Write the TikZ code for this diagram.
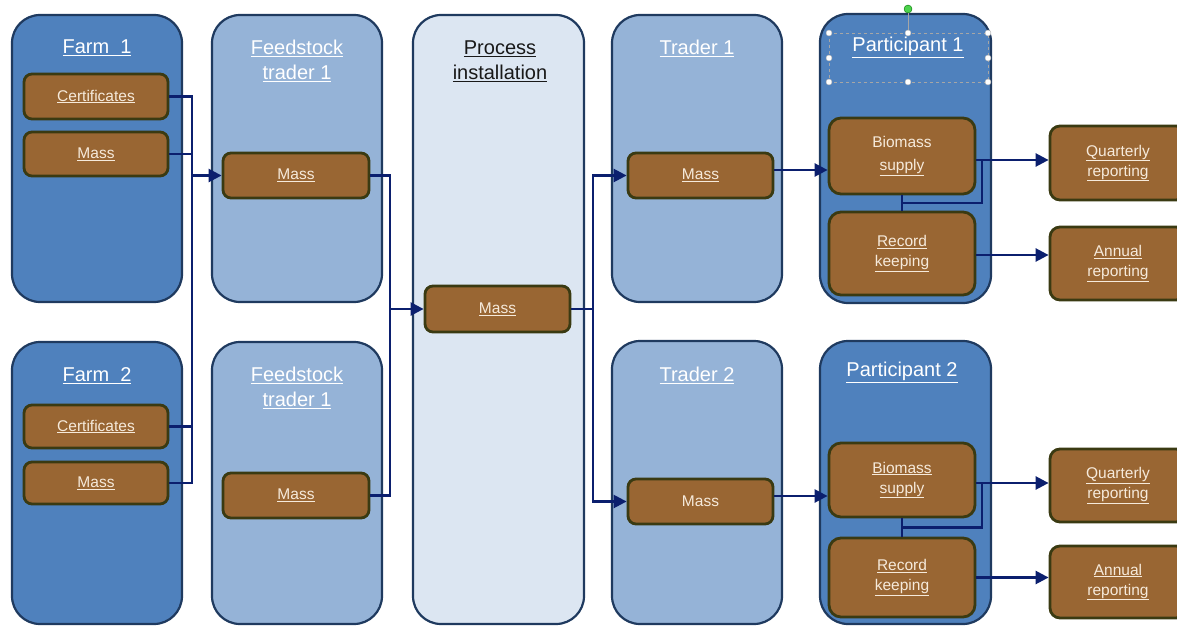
\documentclass[tikz,border=0pt]{standalone}
\usepackage{fontspec}
\setmainfont{Liberation Sans}
\usetikzlibrary{arrows.meta,calc}
\definecolor{darkb}{HTML}{4F81BD}
\definecolor{lightb}{HTML}{95B3D7}
\definecolor{paleb}{HTML}{DCE6F2}
\definecolor{bordc}{HTML}{1F3A5F}
\definecolor{brownf}{HTML}{996633}
\definecolor{brownb}{HTML}{3A3A12}
\definecolor{boxtxt}{HTML}{F6EADB}
\definecolor{navy}{HTML}{0B1F6E}
\newcommand\bx[7]{\node[#2, minimum width={(#5-#3)*1pt}, minimum height={(#6-#4)*1pt}] (#1) at ({(#3+#5)/2},{(#4+#6)/2}) {#7};}
\begin{document}
\begin{tikzpicture}[x=1pt,y=-1pt,
  cont/.style={draw=bordc, line width=2.2pt, rounded corners=28pt, inner sep=0pt},
  darkc/.style={cont, fill=darkb},
  lightc/.style={cont, fill=lightb},
  palec/.style={cont, fill=paleb},
  brownbox/.style={draw=brownb, fill=brownf, line width=2.8pt, rounded corners=8pt, inner sep=0pt, text=boxtxt, font=\fontsize{15.5}{20}\selectfont, align=center},
  title/.style={text=white, font=\fontsize{20}{25}\selectfont, align=center, inner sep=0pt},
  arr/.style={draw=navy, line width=2.5pt, -{Triangle[length=13pt,width=13pt]}},
  ln/.style={draw=navy, line width=2.5pt},
  handle/.style={circle, fill=white, draw=gray!60, line width=0.4pt, inner sep=0pt, minimum size=6pt}
]
\useasboundingbox (0,0) rectangle (1177,626);
\clip (0,0) rectangle (1177,626);

% containers
\bx{farmA}{darkc}{12}{15}{182}{302}{}
\bx{farmB}{darkc}{12}{342}{182}{624}{}
\bx{feedA}{lightc}{212}{15}{382}{302}{}
\bx{feedB}{lightc}{212}{342}{382}{624}{}
\bx{proc}{palec}{413}{15}{584}{624}{}
\bx{trA}{lightc}{612}{15}{782}{302}{}
\bx{trB}{lightc}{612}{341}{782}{624}{}
\bx{partA}{darkc}{820}{14}{991}{303}{}
\bx{partB}{darkc}{820}{341}{991}{624}{}

% titles
\node[title] (farmAt) at (97,48) {\underline{Farm\ \ 1}};
\node[title] (farmBt) at (97,376) {\underline{Farm\ \ 2}};
\node[title] (feedAt) at (297,61) {\underline{Feedstock}\\\underline{trader 1}};
\node[title] (feedBt) at (297,388) {\underline{Feedstock}\\\underline{trader 1}};
\node[title, text=black!90] (proct) at (500,61) {\underline{Process}\\\underline{installation}};
\node[title] (trAt) at (697,48) {\underline{Trader 1}};
\node[title] (trBt) at (697,375) {\underline{Trader 2}};
\node[title] (partAt) at (908,47) {\underline{Participant 1}};
\node[title] (partBt) at (902,372) {\underline{Participant 2}};

% brown boxes
\bx{certA}{brownbox}{24}{74}{168}{119}{\underline{Certificates}}
\bx{massFA}{brownbox}{24}{132}{168}{176}{\underline{Mass}}
\bx{certB}{brownbox}{24}{405}{168}{448}{\underline{Certificates}}
\bx{massFB}{brownbox}{24}{462}{168}{504}{\underline{Mass}}
\bx{massTA}{brownbox}{223}{153}{369}{198}{\underline{Mass}}
\bx{massTB}{brownbox}{223}{473}{369}{518}{\underline{Mass}}
\bx{massP}{brownbox}{425}{286}{570}{332}{\underline{Mass}}
\bx{massRA}{brownbox}{628}{153}{773}{198}{\underline{Mass}}
\bx{massRB}{brownbox}{628}{479}{773}{524}{Mass}
\bx{bioA}{brownbox, rounded corners=12pt}{829}{118}{975}{194}{\raisebox{0pt}[0pt][0pt]{}Biomass\\[3pt]\underline{supply}}
\bx{recA}{brownbox, rounded corners=12pt}{829}{212}{975}{295}{\underline{Record}\\\underline{keeping}}
\bx{bioB}{brownbox, rounded corners=12pt}{829}{443}{975}{517}{\underline{Biomass}\\\underline{supply}}
\bx{recB}{brownbox, rounded corners=12pt}{829}{538}{975}{617}{\underline{Record}\\\underline{keeping}}
\bx{qA}{brownbox, rounded corners=10pt}{1050}{126}{1186}{200}{\underline{Quarterly}\\\underline{reporting}}
\bx{anA}{brownbox, rounded corners=10pt}{1050}{227}{1186}{300}{\underline{Annual}\\\underline{reporting}}
\bx{qB}{brownbox, rounded corners=10pt}{1050}{449}{1186}{522}{\underline{Quarterly}\\\underline{reporting}}
\bx{anB}{brownbox, rounded corners=10pt}{1050}{546}{1186}{618}{\underline{Annual}\\\underline{reporting}}

% selection artefact around Participant 1 title
\coordinate (selNW) at (829,33);
\coordinate (selSE) at (988,82);
\coordinate (selN) at (908,33);
\draw[gray!70, dashed, line width=0.6pt] (selNW) rectangle (selSE);
\node[circle, fill=green!75!black!70!white, draw=green!45!black, line width=0.4pt, inner sep=0pt, minimum size=8pt] (rot) at (908,9) {};
\draw[gray!70, line width=0.6pt] (rot) -- (selN);
\foreach \hx in {829,908,988}{
  \node[handle] at (\hx,33) {};
  \node[handle] at (\hx,82) {};
}
\node[handle] at (829,58) {};
\node[handle] at (988,58) {};

% vertical line positions
\coordinate (xL) at (192,0);
\coordinate (xM) at (390,0);
\coordinate (xR) at (593,0);
\coordinate (xP) at (982,0);

% connectors: farms -> feedstock trader
\coordinate (jL) at (massTA.west -| xL);
\draw[ln] (certA.east) -| (jL);
\draw[ln] (massFA.east) -| (jL);
\draw[ln] (certB.east) -| (jL);
\draw[ln] (massFB.east) -| (jL);
\draw[arr] (jL) -- (massTA.west);

% feedstock traders -> process
\coordinate (jM) at (massP.west -| xM);
\draw[ln] (massTA.east) -| (jM);
\draw[ln] (massTB.east) -| (jM);
\draw[arr] (jM) -- (massP.west);

% process -> traders
\coordinate (jR) at (massP.east -| xR);
\draw[ln] (massP.east) -- (jR);
\draw[arr] (jR) |- (massRA.west);
\draw[arr] (jR) |- (massRB.west);

% traders -> participants
\draw[arr] ([yshift=5.5pt]massRA.east) -- ([yshift=5.5pt]massRA.east -| bioA.west);
\draw[arr] ([yshift=5.5pt]massRB.east) -- ([yshift=5.5pt]massRB.east -| bioB.west);

% participant 1 outputs
\coordinate (bA) at ([yshift=-4pt]bioA.east -| xP);
\draw[arr] ([yshift=-4pt]bioA.east) -- ([yshift=-4pt]bioA.east -| qA.west);
\draw[ln] (bA) |- ($(bioA.south)!0.5!(recA.north)$);
\draw[ln] (bioA.south) -- (recA.north);
\draw[arr] ([yshift=-1.5pt]recA.east) -- ([yshift=-1.5pt]recA.east -| anA.west);

% participant 2 outputs
\coordinate (bB) at ([yshift=-3pt]bioB.east -| xP);
\draw[arr] ([yshift=-3pt]bioB.east) -- ([yshift=-3pt]bioB.east -| qB.west);
\draw[ln] (bB) |- ($(bioB.south)!0.5!(recB.north)$);
\draw[ln] (bioB.south) -- (recB.north);
\draw[arr] (recB.east) -- (recB.east -| anB.west);
\end{tikzpicture}
\end{document}
